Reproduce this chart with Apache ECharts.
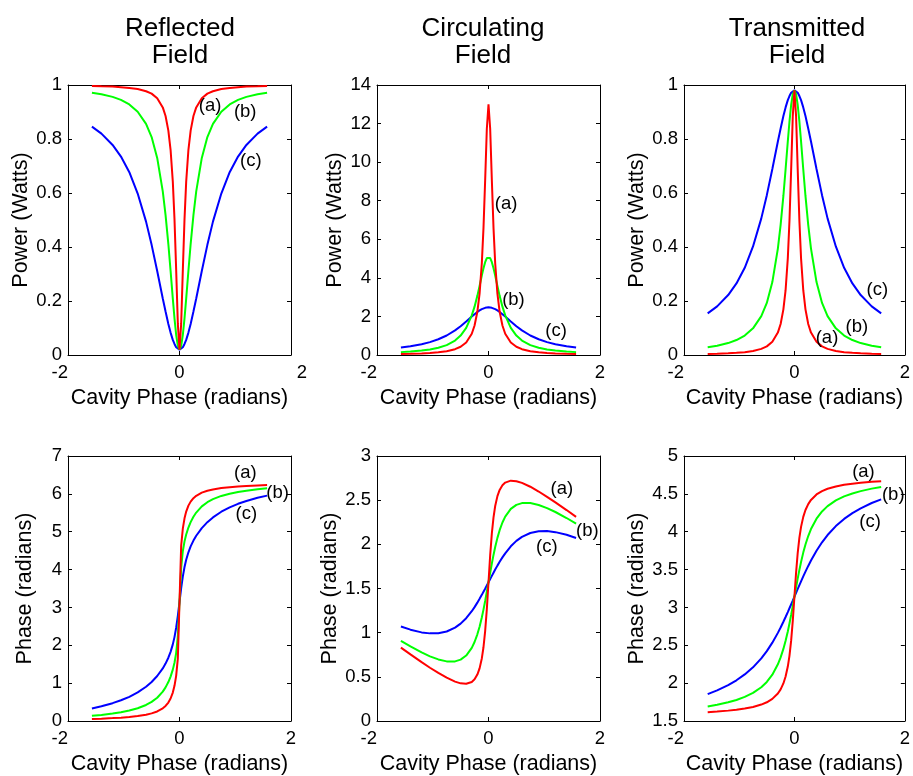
<!DOCTYPE html>
<html>
<head>
<meta charset="utf-8">
<title>Cavity fields</title>
<script src="https://cdn.jsdelivr.net/npm/echarts@6/dist/echarts.min.js"></script>
<style>
  html, body { margin: 0; padding: 0; background: #fff; }
  #chart { width: 913px; height: 776px; }
</style>
</head>
<body>
<div id="chart"></div>
<script>
// Cavity round-trip phase samples (radians), dense near resonance
const cavityPhase = [-1.571, -1.4, -1.2, -1.05, -0.9, -0.75, -0.6, -0.5, -0.4, -0.3, -0.25, -0.2, -0.16, -0.12, -0.09, -0.06, -0.03,
  0, 0.03, 0.06, 0.09, 0.12, 0.16, 0.2, 0.25, 0.3, 0.4, 0.5, 0.6, 0.75, 0.9, 1.05, 1.2, 1.4, 1.571];

// Reflected power (W) for mirror sets (a), (b), (c)
const reflPowerA = [0.996, 0.995, 0.994, 0.992, 0.989, 0.985, 0.977, 0.968, 0.951, 0.917, 0.885, 0.831, 0.760, 0.642, 0.504, 0.317, 0.116,
  0.02, 0.116, 0.317, 0.504, 0.642, 0.760, 0.831, 0.885, 0.917, 0.951, 0.968, 0.977, 0.985, 0.989, 0.992, 0.994, 0.995, 0.996];
const reflPowerB = [0.971, 0.966, 0.956, 0.945, 0.928, 0.901, 0.856, 0.807, 0.730, 0.606, 0.518, 0.411, 0.312, 0.209, 0.136, 0.075, 0.034,
  0.02, 0.034, 0.075, 0.136, 0.209, 0.312, 0.411, 0.518, 0.606, 0.730, 0.807, 0.856, 0.901, 0.928, 0.945, 0.956, 0.966, 0.971];
const reflPowerC = [0.846, 0.820, 0.778, 0.735, 0.677, 0.598, 0.494, 0.408, 0.311, 0.209, 0.161, 0.115, 0.083, 0.056, 0.041, 0.029, 0.022,
  0.02, 0.022, 0.029, 0.041, 0.056, 0.083, 0.115, 0.161, 0.209, 0.311, 0.408, 0.494, 0.598, 0.677, 0.735, 0.778, 0.820, 0.846];

// Circulating power (W)
const circPowerA = [0.054, 0.065, 0.084, 0.106, 0.141, 0.198, 0.302, 0.426, 0.649, 1.104, 1.530, 2.239, 3.186, 4.756, 6.58, 9.06, 11.73,
  13.0, 11.73, 9.06, 6.58, 4.756, 3.186, 2.239, 1.530, 1.104, 0.649, 0.426, 0.302, 0.198, 0.141, 0.106, 0.084, 0.065, 0.054];
const circPowerB = [0.149, 0.179, 0.230, 0.288, 0.376, 0.514, 0.749, 1.006, 1.407, 2.052, 2.508, 3.067, 3.580, 4.116, 4.495, 4.812, 5.025,
  5.10, 5.025, 4.812, 4.495, 4.116, 3.580, 3.067, 2.508, 2.052, 1.407, 1.006, 0.749, 0.514, 0.376, 0.288, 0.230, 0.179, 0.149];
const circPowerC = [0.388, 0.453, 0.559, 0.668, 0.815, 1.012, 1.275, 1.491, 1.735, 1.992, 2.115, 2.231, 2.311, 2.378, 2.417, 2.446, 2.464,
  2.47, 2.464, 2.446, 2.417, 2.378, 2.311, 2.231, 2.115, 1.992, 1.735, 1.491, 1.275, 1.012, 0.815, 0.668, 0.559, 0.453, 0.388];

// Transmitted power (W)
const transPowerA = [0.0041, 0.0049, 0.0063, 0.0080, 0.0106, 0.0149, 0.0227, 0.032, 0.049, 0.083, 0.115, 0.169, 0.240, 0.358, 0.496, 0.683, 0.884,
  0.98, 0.884, 0.683, 0.496, 0.358, 0.240, 0.169, 0.115, 0.083, 0.049, 0.032, 0.0227, 0.0149, 0.0106, 0.0080, 0.0063, 0.0049, 0.0041];
const transPowerB = [0.0286, 0.0343, 0.0441, 0.0554, 0.0722, 0.0988, 0.144, 0.193, 0.270, 0.394, 0.482, 0.589, 0.688, 0.791, 0.864, 0.925, 0.966,
  0.98, 0.966, 0.925, 0.864, 0.791, 0.688, 0.589, 0.482, 0.394, 0.270, 0.193, 0.144, 0.0988, 0.0722, 0.0554, 0.0441, 0.0343, 0.0286];
const transPowerC = [0.154, 0.180, 0.222, 0.265, 0.323, 0.402, 0.506, 0.592, 0.689, 0.791, 0.839, 0.885, 0.917, 0.944, 0.959, 0.971, 0.978,
  0.98, 0.978, 0.971, 0.959, 0.944, 0.917, 0.885, 0.839, 0.791, 0.689, 0.592, 0.506, 0.402, 0.323, 0.265, 0.222, 0.180, 0.154];

// Reflected field phase (rad)
const reflPhaseA = [0.052, 0.061, 0.076, 0.089, 0.107, 0.131, 0.166, 0.201, 0.252, 0.334, 0.397, 0.488, 0.594, 0.752, 0.929, 1.194, 1.649,
  3.142, 4.635, 5.089, 5.354, 5.531, 5.689, 5.795, 5.886, 5.949, 6.032, 6.082, 6.117, 6.152, 6.176, 6.194, 6.208, 6.222, 6.232];
const reflPhaseB = [0.136, 0.161, 0.198, 0.233, 0.278, 0.338, 0.423, 0.504, 0.615, 0.777, 0.888, 1.030, 1.173, 1.357, 1.538, 1.793, 2.234,
  3.142, 4.050, 4.491, 4.745, 4.926, 5.110, 5.254, 5.395, 5.506, 5.669, 5.780, 5.860, 5.945, 6.005, 6.050, 6.085, 6.122, 6.147];
const reflPhaseC = [0.330, 0.389, 0.471, 0.547, 0.639, 0.755, 0.905, 1.031, 1.188, 1.390, 1.517, 1.672, 1.826, 2.024, 2.216, 2.463, 2.777,
  3.142, 3.507, 3.820, 4.067, 4.260, 4.457, 4.612, 4.766, 4.893, 5.095, 5.252, 5.378, 5.528, 5.644, 5.737, 5.812, 5.895, 5.953];

// Circulating field phase (rad)
const circPhaseA = [0.831, 0.754, 0.666, 0.603, 0.544, 0.490, 0.446, 0.426, 0.421, 0.442, 0.472, 0.526, 0.596, 0.708, 0.835, 1.018, 1.267,
  1.571, 1.875, 2.124, 2.306, 2.434, 2.546, 2.616, 2.669, 2.699, 2.721, 2.715, 2.696, 2.652, 2.598, 2.538, 2.475, 2.388, 2.311];
const circPhaseB = [0.906, 0.844, 0.776, 0.732, 0.697, 0.675, 0.675, 0.695, 0.741, 0.828, 0.894, 0.981, 1.068, 1.172, 1.261, 1.359, 1.463,
  1.571, 1.678, 1.783, 1.880, 1.969, 2.073, 2.160, 2.247, 2.314, 2.401, 2.447, 2.467, 2.467, 2.445, 2.410, 2.366, 2.298, 2.235];
const circPhaseC = [1.070, 1.034, 1.003, 0.992, 0.994, 1.013, 1.057, 1.102, 1.164, 1.243, 1.289, 1.340, 1.383, 1.428, 1.463, 1.498, 1.535,
  1.571, 1.607, 1.643, 1.679, 1.714, 1.759, 1.802, 1.852, 1.898, 1.978, 2.039, 2.085, 2.128, 2.148, 2.150, 2.138, 2.108, 2.072];

// Transmitted field phase (rad)
const transPhaseA = [1.616, 1.625, 1.637, 1.649, 1.665, 1.686, 1.717, 1.747, 1.792, 1.863, 1.918, 1.996, 2.087, 2.219, 2.361, 2.558, 2.823,
  3.142, 3.460, 3.725, 3.922, 4.064, 4.196, 4.287, 4.365, 4.420, 4.492, 4.536, 4.567, 4.597, 4.619, 4.634, 4.646, 4.659, 4.667];
const transPhaseB = [1.692, 1.714, 1.747, 1.778, 1.818, 1.871, 1.946, 2.016, 2.112, 2.249, 2.340, 2.452, 2.559, 2.683, 2.787, 2.900, 3.019,
  3.142, 3.264, 3.383, 3.496, 3.600, 3.724, 3.831, 3.943, 4.035, 4.172, 4.268, 4.338, 4.413, 4.466, 4.505, 4.536, 4.569, 4.591];
const transPhaseC = [1.855, 1.905, 1.974, 2.038, 2.115, 2.209, 2.327, 2.423, 2.535, 2.664, 2.735, 2.811, 2.874, 2.939, 2.989, 3.039, 3.090,
  3.142, 3.193, 3.244, 3.295, 3.345, 3.410, 3.473, 3.548, 3.619, 3.748, 3.860, 3.956, 4.074, 4.169, 4.246, 4.309, 4.379, 4.428];

// Axis tick values
const phaseAxisTicks = [-2, 0, 2];
const reflPowerTicks = [0, 0.2, 0.4, 0.6, 0.8, 1];
const circPowerTicks = [0, 2, 4, 6, 8, 10, 12, 14];
const transPowerTicks = [0, 0.2, 0.4, 0.6, 0.8, 1];
const reflPhaseTicks = [0, 1, 2, 3, 4, 5, 6, 7];
const circPhaseTicks = [0, 0.5, 1, 1.5, 2, 2.5, 3];
const transPhaseTicks = [1.5, 2, 2.5, 3, 3.5, 4, 4.5, 5];

const curveNames = ['(a)', '(b)', '(c)'];

// Where each curve tag sits, in data units of its panel: [x, y] for (a), (b), (c)
const tagPlacement = [
  [[0.548, 0.922], [1.179, 0.901], [1.28, 0.72]],
  [[0.317, 7.83], [0.448, 2.85], [1.213, 1.26]],
  [[0.59, 0.062], [1.13, 0.105], [1.502, 0.241]],
  [[1.182, 6.55], [1.76, 6.03], [1.2, 5.47]],
  [[1.315, 2.628], [1.774, 2.148], [1.047, 1.975]],
  [[1.25, 4.79], [1.79, 4.49], [1.37, 4.13]]
];

const FONT = '"Liberation Sans", Arial, Helvetica, sans-serif';
const COLORS = { a: '#ff0000', b: '#00ff00', c: '#0000ff' };

const colLeft = [68, 377, 684];
const colWidth = 223;
const rowTop = [85, 456];
const rowHeight = [270, 271];

const panels = [
  { row: 0, col: 0, yName: 'Power (Watts)', ticks: reflPowerTicks, curves: [reflPowerA, reflPowerB, reflPowerC], nameGap: 32, maxShift: true },
  { row: 0, col: 1, yName: 'Power (Watts)', ticks: circPowerTicks, curves: [circPowerA, circPowerB, circPowerC], nameGap: 27 },
  { row: 0, col: 2, yName: 'Power (Watts)', ticks: transPowerTicks, curves: [transPowerA, transPowerB, transPowerC], nameGap: 29 },
  { row: 1, col: 0, yName: 'Phase (radians)', ticks: reflPhaseTicks, curves: [reflPhaseA, reflPhaseB, reflPhaseC], nameGap: 32 },
  { row: 1, col: 1, yName: 'Phase (radians)', ticks: circPhaseTicks, curves: [circPhaseA, circPhaseB, circPhaseC], nameGap: 27 },
  { row: 1, col: 2, yName: 'Phase (radians)', ticks: transPhaseTicks, curves: [transPhaseA, transPhaseB, transPhaseC], nameGap: 29 }
];

const columnTitles = [
  { text: 'Reflected\nField', x: 180 },
  { text: 'Circulating\nField', x: 483 },
  { text: 'Transmitted\nField', x: 797 }
];

const axisBlack = { color: '#000', width: 1 };
const labelText = { color: '#000', fontSize: 18.5, fontFamily: FONT };

const grid = [], xAxis = [], yAxis = [], series = [];

panels.forEach((p, i) => {
  grid.push({ left: colLeft[p.col], top: rowTop[p.row], width: colWidth, height: rowHeight[p.row], containLabel: false });

  const xMin = phaseAxisTicks[0], xMax = phaseAxisTicks[phaseAxisTicks.length - 1];
  const xStep = phaseAxisTicks[1] - phaseAxisTicks[0];
  const yMin = p.ticks[0], yMax = p.ticks[p.ticks.length - 1];
  const yStep = p.ticks[1] - p.ticks[0];

  // bottom axis with labels
  xAxis.push({
    gridIndex: i, type: 'value', position: 'bottom', min: xMin, max: xMax, interval: xStep,
    axisLine: { show: true, onZero: false, lineStyle: axisBlack },
    axisTick: { show: true, inside: true, length: 4, lineStyle: axisBlack },
    axisLabel: Object.assign({
      margin: 8, showMinLabel: true, showMaxLabel: true, alignMinLabel: 'right',
      formatter: v => (p.maxShift && v === xMax) ? '{shift|' + v + '}' : String(v),
      rich: { shift: { padding: [0, 0, 0, 22], fontSize: 18.5, fontFamily: FONT, color: '#000' } }
    }, labelText),
    splitLine: { show: false },
    name: 'Cavity Phase (radians)', nameLocation: 'middle', nameGap: 32,
    nameTextStyle: { color: '#000', fontSize: 21.5, fontFamily: FONT }
  });
  // top mirror axis (box + ticks)
  xAxis.push({
    gridIndex: i, type: 'value', position: 'top', min: xMin, max: xMax, interval: xStep,
    axisLine: { show: true, onZero: false, lineStyle: axisBlack },
    axisTick: { show: true, inside: true, length: 4, lineStyle: axisBlack },
    axisLabel: { show: false }, splitLine: { show: false }
  });
  // left axis with labels
  yAxis.push({
    gridIndex: i, type: 'value', position: 'left', min: yMin, max: yMax, interval: yStep,
    axisLine: { show: true, onZero: false, lineStyle: axisBlack },
    axisTick: { show: true, inside: true, length: 4, lineStyle: axisBlack },
    axisLabel: Object.assign({ margin: 6, showMinLabel: true, showMaxLabel: true }, labelText),
    splitLine: { show: false },
    name: p.yName, nameLocation: 'middle', nameGap: p.nameGap, nameRotate: 90,
    nameTextStyle: { color: '#000', fontSize: 21.5, fontFamily: FONT }
  });
  // right mirror axis
  yAxis.push({
    gridIndex: i, type: 'value', position: 'right', min: yMin, max: yMax, interval: yStep,
    axisLine: { show: true, onZero: false, lineStyle: axisBlack },
    axisTick: { show: true, inside: true, length: 4, lineStyle: axisBlack },
    axisLabel: { show: false }, splitLine: { show: false }
  });

  // curves: (c) drawn first, (a) on top
  const order = [2, 1, 0];
  const col = [COLORS.a, COLORS.b, COLORS.c];
  order.forEach(k => {
    series.push({
      type: 'line', xAxisIndex: 2 * i, yAxisIndex: 2 * i,
      data: cavityPhase.map((x, j) => [x, p.curves[k][j]]),
      showSymbol: false, symbol: 'none', smooth: false,
      lineStyle: { color: col[k], width: 2 },
      itemStyle: { color: col[k] },
      animation: false, silent: true, z: 3 + (2 - k)
    });
  });

  // curve tags
  series.push({
    type: 'scatter', xAxisIndex: 2 * i, yAxisIndex: 2 * i,
    symbolSize: 0, silent: true, animation: false, z: 10,
    itemStyle: { color: '#000', opacity: 0 },
    data: tagPlacement[i].map((pt, k) => ({ value: pt, name: curveNames[k] })),
    label: Object.assign({
      show: true, position: 'inside', formatter: '{b}',
      textBorderWidth: 0, textShadowBlur: 0, opacity: 1
    }, labelText),
    labelLayout: { hideOverlap: false }
  });
});

const graphic = columnTitles.map(t => ({
  type: 'text', x: t.x, y: 16,
  style: {
    text: t.text, align: 'center', verticalAlign: 'top',
    fontSize: 26, lineHeight: 26.6, fontFamily: FONT, fill: '#000'
  }
}));

const chart = echarts.init(document.getElementById('chart'), null, { renderer: 'canvas' });
chart.setOption({
  animation: false,
  backgroundColor: '#fff',
  grid, xAxis, yAxis, series, graphic
});
</script>
</body>
</html>
